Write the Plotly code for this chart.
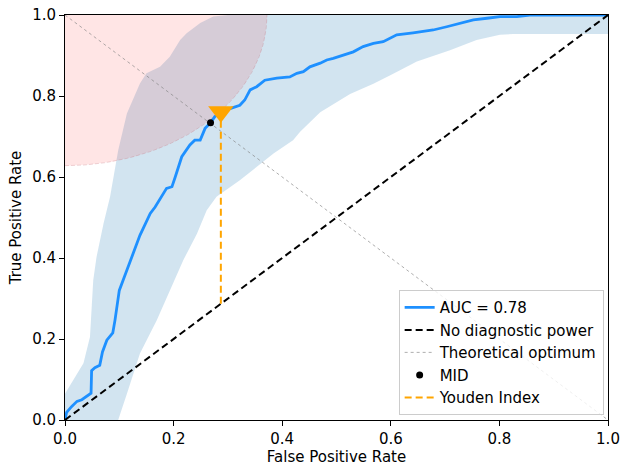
import numpy as np
import plotly.graph_objects as go

# ROC curve (FPR, TPR)
roc_fpr = [0.0, 0.003, 0.012, 0.022, 0.031, 0.040, 0.048, 0.049, 0.055, 0.064, 0.069, 0.077,
           0.088, 0.092, 0.100, 0.107, 0.126, 0.138, 0.157, 0.166, 0.187, 0.197, 0.203, 0.215,
           0.230, 0.239, 0.249, 0.258, 0.268, 0.276, 0.285, 0.304, 0.322, 0.331, 0.341, 0.353,
           0.368, 0.390, 0.414, 0.427, 0.439, 0.451, 0.470, 0.482, 0.494, 0.513, 0.531, 0.549,
           0.568, 0.586, 0.611, 0.641, 0.678, 0.703, 0.727, 0.752, 0.777, 0.801, 0.832, 0.856, 1.0]
roc_tpr = [0.0, 0.019, 0.033, 0.046, 0.050, 0.058, 0.066, 0.122, 0.129, 0.135, 0.168, 0.197,
           0.215, 0.246, 0.320, 0.345, 0.411, 0.456, 0.510, 0.526, 0.572, 0.576, 0.600, 0.650,
           0.679, 0.691, 0.691, 0.720, 0.734, 0.749, 0.757, 0.769, 0.777, 0.790, 0.815, 0.823,
           0.839, 0.844, 0.847, 0.856, 0.860, 0.872, 0.881, 0.889, 0.893, 0.901, 0.909, 0.922,
           0.930, 0.934, 0.951, 0.956, 0.963, 0.971, 0.980, 0.988, 0.992, 0.996, 0.996, 1.0, 1.0]

# Confidence band
upper_fpr = [0.0, 0.015, 0.034, 0.046, 0.049, 0.052, 0.058, 0.071, 0.083, 0.089, 0.098, 0.114,
             0.138, 0.150, 0.175, 0.193, 0.212, 0.224, 0.249, 0.273, 0.300, 1.0]
upper_tpr = [0.065, 0.098, 0.140, 0.205, 0.279, 0.345, 0.402, 0.485, 0.551, 0.592, 0.666, 0.757,
             0.831, 0.856, 0.872, 0.897, 0.938, 0.955, 0.980, 0.996, 1.0, 1.0]
lower_fpr = [0.0, 0.098, 0.114, 0.138, 0.169, 0.196, 0.218, 0.243, 0.261, 0.279, 0.322, 0.384,
             0.420, 0.433, 0.470, 0.525, 0.568, 0.600, 0.648, 0.709, 0.758, 0.801, 0.825, 1.0]
lower_tpr = [0.0, 0.0, 0.065, 0.164, 0.246, 0.328, 0.395, 0.460, 0.518, 0.551, 0.592, 0.658,
             0.691, 0.712, 0.760, 0.805, 0.830, 0.852, 0.885, 0.913, 0.938, 0.951, 0.953, 0.953]

auc_value = 0.78
mid_point = (0.268, 0.734)
youden_point = (0.287, 0.761)
optimum_radius = 0.372

font = "DejaVu Sans"
fs = 15
fig = go.Figure()

# band polygon
fig.add_trace(go.Scatter(
    x=lower_fpr + upper_fpr[::-1], y=lower_tpr + upper_tpr[::-1],
    fill="toself", fillcolor="rgba(31,119,180,0.2)", line=dict(width=0),
    mode="lines", showlegend=False, hoverinfo="skip"))

# circle around optimum (0,1)
theta = np.linspace(-np.pi / 2, 0, 120)
cx = optimum_radius * np.cos(theta)
cy = 1 + optimum_radius * np.sin(theta)
fig.add_trace(go.Scatter(
    x=np.concatenate([[0], cx, [0]]), y=np.concatenate([[1], cy, [1]]),
    fill="toself", fillcolor="rgba(255,0,0,0.1)", line=dict(width=0),
    mode="lines", showlegend=False, hoverinfo="skip"))
fig.add_trace(go.Scatter(
    x=cx, y=cy, mode="lines",
    line=dict(color="rgba(200,120,130,0.3)", width=1, dash="4px,2px"),
    showlegend=False, hoverinfo="skip"))

fig.add_trace(go.Scatter(
    x=roc_fpr, y=roc_tpr, mode="lines", name=f"AUC = {auc_value}",
    line=dict(color="#1e90ff", width=2.8), legendgroup="a"))
fig.add_trace(go.Scatter(
    x=[0, 1], y=[0, 1], mode="lines", name="No diagnostic power",
    line=dict(color="black", width=2, dash="7px,4px"), legendgroup="b"))
fig.add_trace(go.Scatter(
    x=[0, 1], y=[1, 0], mode="lines", name="Theoretical optimum",
    line=dict(color="rgba(128,128,128,0.8)", width=0.8, dash="dot"), legendgroup="c"))
fig.add_trace(go.Scatter(
    x=[mid_point[0]], y=[mid_point[1]], mode="markers", name="MID",
    marker=dict(color="black", size=7), legendgroup="d"))
fig.add_trace(go.Scatter(
    x=[youden_point[0], youden_point[0]], y=[youden_point[0], youden_point[1]],
    mode="lines", name="Youden Index",
    line=dict(color="orange", width=2, dash="7px,4px"), legendgroup="e"))
fig.add_trace(go.Scatter(
    x=[youden_point[0]], y=[youden_point[1]], mode="markers",
    marker=dict(symbol="triangle-down", color="orange", size=22),
    showlegend=False, hoverinfo="skip"))

axis_common = dict(
    range=[0, 1], dtick=0.2, tick0=0, tickformat=".1f", automargin=False,
    showgrid=False, zeroline=False, showline=True, linecolor="black", linewidth=1,
    mirror=True, ticks="outside", ticklen=5, tickwidth=1, tickcolor="black",
    tickfont=dict(family=font, size=fs, color="black"))

fig.update_layout(
    width=622, height=467,
    margin=dict(l=65, r=14, t=15, b=47),
    plot_bgcolor="white", paper_bgcolor="white",
    font=dict(family=font, size=fs, color="black"),
    xaxis=dict(**axis_common, title=dict(text="False Positive Rate", font=dict(family=font, size=fs), standoff=4)),
    yaxis=dict(**axis_common, title=dict(text="True Positive Rate", font=dict(family=font, size=fs), standoff=6)),
    legend=dict(x=0.992, y=0.012, xanchor="right", yanchor="bottom",
                bgcolor="rgba(255,255,255,0.8)", bordercolor="#cccccc", borderwidth=1,
                font=dict(family=font, size=fs), tracegroupgap=0, itemwidth=30),
    showlegend=True,
)

fig.write_html("out.html")
